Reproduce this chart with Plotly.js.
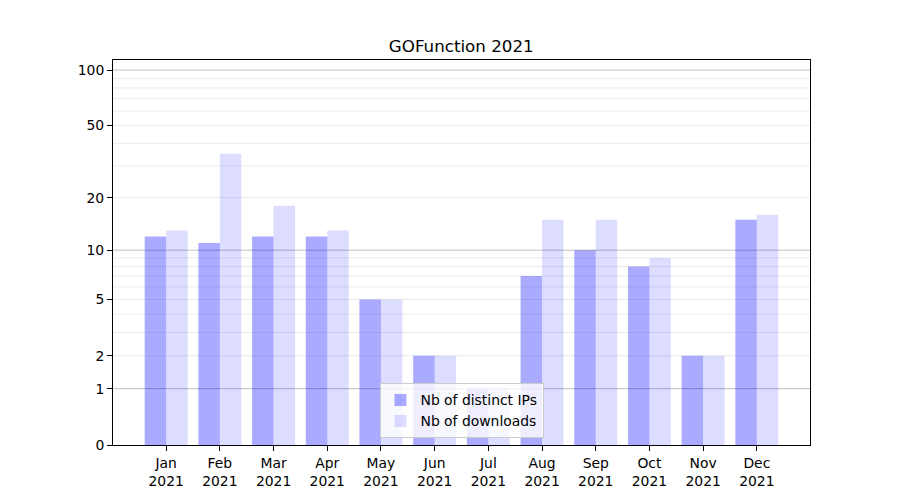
<!DOCTYPE html>
<html>
<head>
<meta charset="utf-8">
<script src="https://cdn.plot.ly/plotly-3.0.1.min.js"></script>
<style>html,body{margin:0;padding:0;background:#fff;}#chart{width:900px;height:500px;}</style>
</head>
<body>
<div id="chart"></div>
<script>
const months = ['Jan','Feb','Mar','Apr','May','Jun','Jul','Aug','Sep','Oct','Nov','Dec'];
const year = '2021';
const distinctIPs = [12, 11, 12, 12, 5, 2, 1, 7, 10, 8, 2, 15];
const downloads   = [13, 35, 18, 13, 5, 2, 1, 15, 15, 9, 2, 16];
const yTickValues = [0, 1, 2, 5, 10, 20, 50, 100];
const majorGrid = [1, 10, 100];
const minorGrid = [2,3,4,5,6,7,8,9,20,30,40,50,60,70,80,90];

// log(1+x) scale transform
const tf = v => Math.log10(1 + v);

const xIdx = months.map((m, i) => i);
const xLabels = months.map(m => m + '<br>' + year);

const font = {family: 'DejaVu Sans, sans-serif', size: 13.9, color: '#000'};

const traces = [
  {type: 'bar', name: 'Nb of distinct IPs', x: xIdx, y: distinctIPs.map(tf),
   customdata: distinctIPs, hovertemplate: '%{customdata}<extra></extra>',
   marker: {color: 'rgba(0,0,255,0.333)', line: {width: 0}}},
  {type: 'bar', name: 'Nb of downloads', x: xIdx, y: downloads.map(tf),
   customdata: downloads, hovertemplate: '%{customdata}<extra></extra>',
   marker: {color: 'rgba(0,0,255,0.133)', line: {width: 0}}}
];

const shapes = [];
minorGrid.forEach(v => shapes.push({type: 'line', xref: 'paper', yref: 'y', x0: 0, x1: 1, y0: tf(v), y1: tf(v),
  line: {color: 'rgb(235,235,235)', width: 1}, layer: 'below'}));
majorGrid.forEach(v => shapes.push({type: 'line', xref: 'paper', yref: 'y', x0: 0, x1: 1, y0: tf(v), y1: tf(v),
  line: {color: 'rgb(190,190,190)', width: 1}, layer: 'below'}));

const layout = {
  width: 900, height: 500,
  paper_bgcolor: '#fff', plot_bgcolor: '#fff',
  margin: {l: 113, r: 90, t: 60, b: 55, pad: 0},
  font: font,
  title: {text: 'GOFunction ' + year, x: 0.5125, xanchor: 'center', yref: 'container', y: 0.908, yanchor: 'middle',
          font: {family: 'DejaVu Sans, sans-serif', size: 16.7, color: '#000'}},
  barmode: 'group', bargap: 0.2, bargroupgap: 0,
  xaxis: {
    range: [-0.99, 11.99], tickmode: 'array', tickvals: xIdx, ticktext: xLabels,
    showgrid: false, zeroline: false, showline: true, mirror: true, linecolor: '#000', linewidth: 1,
    ticks: 'outside', ticklen: 5, tickwidth: 1, tickcolor: '#000', tickfont: font
  },
  yaxis: {
    range: [0, 2.058], tickmode: 'array', tickvals: yTickValues.map(tf), ticktext: yTickValues.map(String),
    showgrid: false, zeroline: false, showline: true, mirror: true, linecolor: '#000', linewidth: 1,
    ticks: 'outside', ticklen: 5, tickwidth: 1, tickcolor: '#000', tickfont: font
  },
  shapes: shapes,
  showlegend: true,
  legend: {x: 0.5, xanchor: 'center', y: 0.017, yanchor: 'bottom', bgcolor: 'rgba(255,255,255,0.8)',
           bordercolor: '#cccccc', borderwidth: 1, font: font, tracegroupgap: 0, itemwidth: 30}
};

Plotly.newPlot('chart', traces, layout, {displayModeBar: false, staticPlot: true});
</script>
</body>
</html>
